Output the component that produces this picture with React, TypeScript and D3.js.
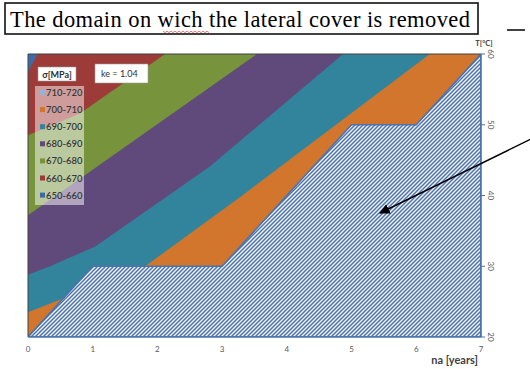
import React from "react";
import * as d3 from "d3";

// Axis ticks
const naTicks = [0, 1, 2, 3, 4, 5, 6, 7];
const tempTicks = [20, 30, 40, 50, 60];

// Legend (stress bands, MPa) and their fill colours, top to bottom
const legendLabels = ["710-720", "700-710", "690-700", "680-690", "670-680", "660-670", "650-660"];
const bandColors = ["#95B3D7", "#D2762E", "#31849B", "#604A7B", "#77933C", "#9C3B37", "#3D6BA6"];

// Contour boundaries between stress bands, as [na, T] points
const iso700: [number, number][] = [[0, 23.5], [1.81, 30], [3.28, 39.8], [6.21, 60]];
const iso690: [number, number][] = [[0, 28.8], [0.34, 30], [1.04, 32.8], [2.81, 44.1], [4.87, 60]];
const iso680: [number, number][] = [[0, 37.2], [3.54, 60]];
const iso670: [number, number][] = [[0, 48.5], [0.8, 51.6], [2.12, 60]];
const iso660: [number, number][] = [[0, 57.5], [0.15, 60]];

// Domain where the lateral cover is removed
const removedNa = [0, 1, 3, 5, 6, 7, 7];
const removedT = [20, 30, 30, 50, 50, 60, 20];

const W = 530;
const H = 369;

export default function App() {
  const x = d3.scaleLinear().domain([0, 7]).range([28, 481]);
  const y = d3.scaleLinear().domain([20, 60]).range([337, 54]);
  const line = d3
    .line<[number, number]>()
    .x((d) => x(d[0]))
    .y((d) => y(d[1]));

  // region above/left of an iso-line, closed outside the plot (clipped later)
  const above = (pts: [number, number][]) => {
    const first = pts[0];
    const last = pts[pts.length - 1];
    const poly: [number, number][] = [...pts, [last[0], 66], [-1, 66], [-1, first[1]]];
    return line(poly) + "Z";
  };

  const bands = [
    { iso: iso700, color: bandColors[2] },
    { iso: iso690, color: bandColors[3] },
    { iso: iso680, color: bandColors[4] },
    { iso: iso670, color: bandColors[5] },
    { iso: iso660, color: bandColors[6] },
  ];

  const removedPts: [number, number][] = removedNa.map((n, i) => [n, removedT[i]]);
  const removedPath = line(removedPts) + "Z";

  const legendY = (i: number) => 93 + i * 17.1;
  const calibri = "Lato, 'Open Sans', sans-serif";

  return (
    <svg
      width={W}
      height={H}
      viewBox={`0 0 ${W} ${H}`}
      style={{ position: "absolute", left: 0, top: 0, background: "#fff" }}
    >
      <defs>
        <clipPath id="plotClip">
          <rect x={x(0)} y={y(60)} width={x(7) - x(0)} height={y(20) - y(60)} />
        </clipPath>
        <pattern id="hatch" patternUnits="userSpaceOnUse" width={4} height={4}>
          <rect width={4} height={4} fill="#EEF3FA" />
          <path d="M-1,1 l2,-2 M0,4 l4,-4 M3,5 l2,-2" stroke="#4B70AA" strokeWidth={1.4} />
        </pattern>
        <marker id="arrowHead" viewBox="0 0 10 10" refX={9} refY={5} markerWidth={7} markerHeight={7} orient="auto">
          <path d="M0,0 L10,5 L0,10 Z" fill="#000" />
        </marker>
      </defs>

      {/* Title box */}
      <rect x={5} y={3} width={473} height={31} fill="#fff" stroke="#111" strokeWidth={1.6} />
      <text
        x={10}
        y={26.5}
        style={{ fontFamily: "'Liberation Serif', 'DejaVu Serif', serif" }}
        fontSize={22.5}
        textLength={460}
        lengthAdjust="spacing"
        fill="#000"
      >
        The domain on wich the lateral cover is removed
      </text>
      <path
        d={d3.range(0, 24).map((i) => `${i === 0 ? "M" : "L"}${163 + i * 2},${i % 2 === 0 ? 31.2 : 32.6}`).join(" ")}
        fill="none"
        stroke="#E05555"
        strokeWidth={0.8}
      />
      <line x1={507} y1={30} x2={525} y2={30} stroke="#000" strokeWidth={1.5} />

      {/* Stress bands */}
      <g clipPath="url(#plotClip)">
        <rect x={x(0)} y={y(60)} width={x(7) - x(0)} height={y(20) - y(60)} fill={bandColors[1]} />
        {bands.map((b, i) => (
          <path key={i} d={above(b.iso)} fill={b.color} />
        ))}
        <path d={removedPath} fill="url(#hatch)" stroke="#4A72AE" strokeWidth={1.6} />
      </g>

      {/* Plot frame: left and top */}
      <line x1={x(0)} y1={y(60)} x2={x(7)} y2={y(60)} stroke="#404040" strokeWidth={1} />
      <line x1={x(0)} y1={y(60)} x2={x(0)} y2={y(20)} stroke="#404040" strokeWidth={1} />
      {/* Bottom and right axes */}
      <line x1={x(0)} y1={y(20)} x2={x(7)} y2={y(20)} stroke="#4A72AE" strokeWidth={1.6} />
      <line x1={x(7)} y1={y(60)} x2={x(7)} y2={y(20)} stroke="#4A72AE" strokeWidth={1.6} />

      {/* x axis labels */}
      {naTicks.map((t) => (
        <text key={t} x={x(t)} y={352} textAnchor="middle" fontFamily={calibri} fontSize={8} fill="#595959">
          {t}
        </text>
      ))}
      <text x={478} y={364} textAnchor="end" fontFamily={calibri} fontSize={11} fontWeight="bold" fill="#404040">
        na [years]
      </text>

      {/* right T axis */}
      {tempTicks.map((t) => (
        <g key={t}>
          <line x1={x(7)} y1={y(t)} x2={x(7) + 4} y2={y(t)} stroke="#4A72AE" strokeWidth={1} />
          <text
            transform={`translate(${x(7) + 7},${y(t)}) rotate(90)`}
            textAnchor="middle"
            fontFamily={calibri}
            fontSize={8}
            fill="#595959"
          >
            {t}
          </text>
        </g>
      ))}
      <text x={484} y={46} textAnchor="middle" fontFamily={calibri} fontSize={7.5} fontWeight="bold" fill="#404040">
        T[°C]
      </text>

      {/* Legend */}
      <rect x={35} y={86} width={49} height={119} fill="#fff" fillOpacity={0.5} />
      {legendLabels.map((lab, i) => (
        <g key={lab}>
          <rect x={40} y={legendY(i) - 3} width={5} height={5} fill={bandColors[i]} />
          <text x={46} y={legendY(i) + 3} fontFamily={calibri} fontSize={9.5} fontWeight={600} fill="#3A3A3A">
            {lab}
          </text>
        </g>
      ))}
      <rect x={38} y={67} width={38} height={14} fill="#fff" stroke="#999" strokeWidth={0.6} />
      <text x={57} y={77.5} textAnchor="middle" fontFamily={calibri} fontSize={9} fontWeight="bold" fill="#303030">
        σ[MPa]
      </text>

      <rect x={95} y={64} width={53} height={19} fill="#fff" stroke="#999" strokeWidth={0.6} />
      <text x={101} y={77} fontFamily={calibri} fontSize={9} fill="#303030">
        ke = 1.04
      </text>

      {/* Pointer to the removal domain */}
      <line x1={531} y1={139} x2={380} y2={213} stroke="#000" strokeWidth={1.5} markerEnd="url(#arrowHead)" />
    </svg>
  );
}
